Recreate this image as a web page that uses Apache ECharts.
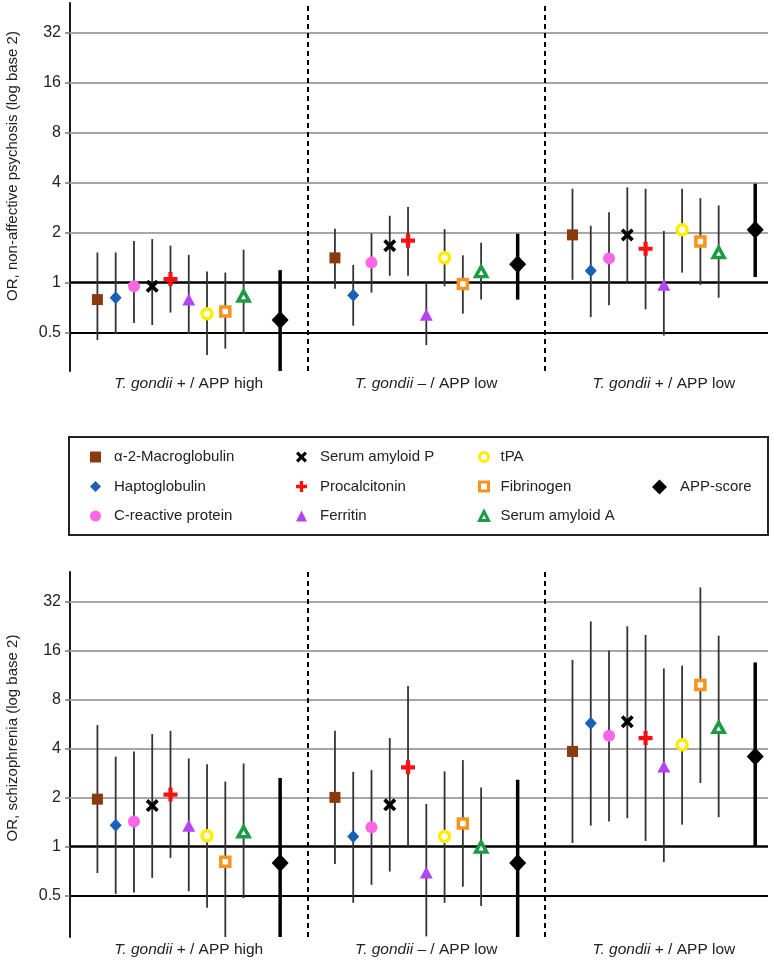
<!DOCTYPE html>
<html>
<head>
<meta charset="utf-8">
<script src="https://cdn.jsdelivr.net/npm/echarts@6/dist/echarts.min.js"></script>
<style>
html, body {margin: 0; padding: 0; background: #fff;}
#chart {width: 774px; height: 964px;}
</style>
</head>
<body>
<div id="chart"></div>
<script>
// markers, in legend order (last one is the composite score)
const markers = ["α-2-Macroglobulin", "Haptoglobulin", "C-reactive protein", "Serum amyloid P",
    "Procalcitonin", "Ferritin", "tPA", "Fibrinogen", "Serum amyloid A", "APP-score"];
const groupPrefix = ["+", "–", "+"];
const groupSuffix = ["APP high", "APP low", "APP low"];
const tickExp = [-1, 0, 1, 2, 3, 4, 5];

// OR, non-affective psychosis: one row per group, one value per marker
const psyOR = [
    [0.79, 0.81, 0.95, 0.95, 1.05, 0.79, 0.65, 0.67, 0.83, 0.595],
    [1.41, 0.84, 1.32, 1.67, 1.79, 0.64, 1.41, 0.98, 1.165, 1.29],
    [1.94, 1.18, 1.40, 1.94, 1.60, 0.97, 2.08, 1.77, 1.52, 2.08]
];
const psyLo = [
    [0.45, 0.49, 0.57, 0.555, 0.66, 0.49, 0.366, 0.40, 0.49, 0.29],
    [0.92, 0.55, 0.87, 1.10, 1.10, 0.42, 0.95, 0.65, 0.79, 0.79],
    [1.04, 0.62, 0.73, 1.00, 0.69, 0.48, 1.15, 0.97, 0.81, 1.08]
];
const psyHi = [
    [1.52, 1.52, 1.78, 1.83, 1.67, 1.47, 1.165, 1.15, 1.58, 1.19],
    [2.11, 1.28, 1.98, 2.53, 2.86, 1.00, 2.10, 1.46, 1.74, 1.97],
    [3.68, 2.20, 2.66, 3.75, 3.68, 2.05, 3.68, 3.23, 2.92, 3.95]
];

// OR, schizophrenia
const schOR = [
    [1.95, 1.35, 1.42, 1.78, 2.08, 1.34, 1.16, 0.805, 1.23, 0.79],
    [2.00, 1.15, 1.31, 1.80, 3.06, 0.69, 1.15, 1.38, 0.99, 0.79],
    [3.83, 5.70, 4.79, 5.83, 4.63, 3.09, 4.21, 9.80, 5.38, 3.56]
];
const schLo = [
    [0.686, 0.51, 0.52, 0.64, 0.85, 0.53, 0.42, 0.26, 0.48, 0.26],
    [0.78, 0.45, 0.58, 0.70, 0.977, 0.28, 0.45, 0.565, 0.43, 0.27],
    [1.05, 1.34, 1.42, 1.49, 1.08, 0.80, 1.36, 2.45, 1.51, 1.00]
];
const schHi = [
    [5.56, 3.56, 3.83, 4.90, 5.13, 3.47, 3.20, 2.50, 3.23, 2.63],
    [5.13, 2.87, 2.94, 4.63, 9.66, 1.82, 2.89, 3.39, 2.30, 2.57],
    [14.0, 24.1, 16.0, 22.5, 19.9, 12.4, 12.9, 39.0, 19.7, 13.5]
];

const FONT = "'Liberation Sans', Arial, sans-serif";
const X_PATH = "path://M0,2L2,0L5,3L8,0L10,2L7,5L10,8L8,10L5,7L2,10L0,8L3,5Z";
const PLUS_PATH = "path://M3.5,0H6.5V3.5H10V6.5H6.5V10H3.5V6.5H0V3.5H3.5Z";

// open markers: white fill with a thick coloured border
const markerStyle = [
    {symbol: "rect", size: 11, color: "#8b3a10"},
    {symbol: "diamond", size: [12, 13], color: "#1b5fb8"},
    {symbol: "circle", size: 12, color: "#ff66e6"},
    {symbol: X_PATH, size: 13, color: "#000"},
    {symbol: PLUS_PATH, size: 14, color: "#ff1010"},
    {symbol: "triangle", size: [13, 12], color: "#b244f2"},
    {symbol: "circle", size: 10, color: "#ffec00", border: 3.5},
    {symbol: "rect", size: 9, color: "#f7931e", border: 3.5},
    {symbol: "triangle", size: [11, 10], color: "#1c9b45", border: 3.5},
    {symbol: "diamond", size: [17, 18], color: "#000"}
];

const panels = [
    {or: psyOR, lo: psyLo, hi: psyHi, min: -1.77},
    {or: schOR, lo: schLo, hi: schHi, min: -1.85}
];

// slot on the x axis: 13 slots per group, score two slots after the last marker
const slot = (g, i) => 13 * g + (i < 9 ? i : 10);
const log2 = v => Math.log2(v);

function renderBar(params, api) {
    const x = api.value(0);
    const p1 = api.coord([x, api.value(1)]);
    const p2 = api.coord([x, api.value(2)]);
    const cs = params.coordSys;
    const clamp = y => Math.max(cs.y, Math.min(cs.y + cs.height, y));
    const thick = api.value(3) === 1;
    return {
        type: "line",
        shape: {x1: p1[0], y1: clamp(p1[1]), x2: p2[0], y2: clamp(p2[1])},
        style: {stroke: thick ? "#000" : "#333", lineWidth: thick ? 3.5 : 1.8}
    };
}

const series = [];
panels.forEach((panel, p) => {
    series.push({
        type: "line",
        xAxisIndex: p,
        yAxisIndex: p,
        data: [],
        silent: true,
        z: 1,
        markLine: {
            silent: true,
            z: 1,
            symbol: ["none", "none"],
            label: {show: false},
            animation: false,
            data: [
                ...tickExp.filter(e => e > 0).map(e => ({yAxis: e, lineStyle: {color: "#a6a6a6", width: 1.8, type: "solid"}})),
                {yAxis: 0, lineStyle: {color: "#000", width: 2.5, type: "solid"}},
                {yAxis: -1, lineStyle: {color: "#000", width: 1.8, type: "solid"}},
                {xAxis: 11.5, lineStyle: {color: "#000", width: 2, type: [5, 4]}},
                {xAxis: 24.5, lineStyle: {color: "#000", width: 2, type: [5, 4]}}
            ]
        }
    });
    const bars = [];
    panel.or.forEach((row, g) => row.forEach((v, i) => {
        bars.push([slot(g, i), log2(panel.lo[g][i]), log2(panel.hi[g][i]), i === 9 ? 1 : 0]);
    }));
    series.push({
        type: "custom",
        xAxisIndex: p,
        yAxisIndex: p,
        renderItem: renderBar,
        encode: {x: 0, y: [1, 2]},
        data: bars,
        silent: true,
        z: 5
    });
    markers.forEach((name, i) => {
        const st = markerStyle[i];
        series.push({
            name,
            type: "scatter",
            xAxisIndex: p,
            yAxisIndex: p,
            symbol: st.symbol,
            symbolSize: st.size,
            itemStyle: st.border
                ? {color: "#fff", borderColor: st.color, borderWidth: st.border, opacity: 1}
                : {color: st.color, opacity: 1},
            z: 10,
            data: panel.or.map((row, g) => [slot(g, i), log2(row[i])])
        });
    });
});

const grids = [
    {left: 70, right: 6, top: 3, height: 368},
    {left: 70, right: 6, top: 572, height: 365}
];

const xAxes = grids.map((_, p) => ({
    type: "value",
    gridIndex: p,
    min: -1.5,
    max: 36.7,
    axisLine: {show: false, onZero: false},
    axisTick: {show: false},
    splitLine: {show: false},
    axisLabel: {
        customValues: [5, 18, 31],
        margin: 5,
        fontFamily: FONT,
        fontSize: 15.5,
        color: "#222",
        formatter: v => {
            const g = Math.round(v / 13);
            return `{i|T. gondii} ${groupPrefix[g]} / ${groupSuffix[g]}`;
        },
        rich: {i: {fontStyle: "italic", fontFamily: FONT, fontSize: 15.5, color: "#222"}}
    }
}));

const yAxes = panels.map((panel, p) => ({
    type: "value",
    gridIndex: p,
    min: panel.min,
    max: 5.6,
    axisLine: {show: true, onZero: false, lineStyle: {color: "#000", width: 1.8}},
    axisTick: {show: true, customValues: tickExp, length: 5, lineStyle: {color: "#777", width: 1.5}},
    splitLine: {show: false},
    axisLabel: {
        customValues: tickExp,
        margin: 9,
        fontFamily: FONT,
        fontSize: 16,
        color: "#222",
        formatter: v => String(Math.pow(2, Math.round(v)))
    }
}));

const legendBase = {
    orient: "vertical",
    padding: 0,
    itemWidth: 11,
    itemHeight: 11,
    itemGap: 13.5,
    selectedMode: false,
    textStyle: {fontFamily: FONT, fontSize: 15, color: "#222", lineHeight: 16, padding: [0, 0, 0, 8]}
};
const legends = [
    {...legendBase, left: 90, top: 449, data: markers.slice(0, 3)},
    {...legendBase, left: 296, top: 449, data: markers.slice(3, 6)},
    {...legendBase, left: 478, top: 449, itemWidth: 9, itemHeight: 9,
        itemStyle: {borderWidth: 3}, textStyle: {...legendBase.textStyle, padding: [0, 0, 0, 7]},
        data: markers.slice(6, 9)},
    {...legendBase, left: 652, top: 479, itemWidth: 15, itemHeight: 15, data: markers.slice(9)}
];

const chart = echarts.init(document.getElementById("chart"));
chart.setOption({
    animation: false,
    textStyle: {fontFamily: FONT},
    grid: grids,
    xAxis: xAxes,
    yAxis: yAxes,
    legend: legends,
    graphic: [
        {
            type: "rect",
            shape: {x: 69, y: 437, width: 699, height: 98},
            style: {fill: "none", stroke: "#222", lineWidth: 2},
            silent: true
        },
        {
            type: "text",
            x: 13, y: 166,
            rotation: Math.PI / 2,
            style: {text: "OR, non-affective psychosis (log base 2)", font: `15px ${FONT}`, fill: "#222", align: "center", verticalAlign: "middle"}
        },
        {
            type: "text",
            x: 13, y: 738,
            rotation: Math.PI / 2,
            style: {text: "OR, schizophrenia (log base 2)", font: `15px ${FONT}`, fill: "#222", align: "center", verticalAlign: "middle"}
        }
    ],
    series
});
</script>
</body>
</html>
